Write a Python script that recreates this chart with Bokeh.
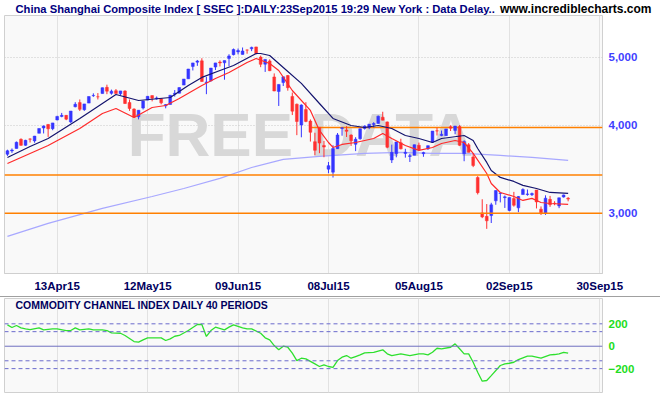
from bokeh.plotting import figure
from bokeh.models import (Range1d, FixedTicker, NumeralTickFormatter, Label, Span,
                          ColumnDataSource, Spacer)
from bokeh.layouts import column
from bokeh.embed import file_html
from bokeh.resources import INLINE

# ---------------- data (bar index 0 = 13Apr15, trading days) ----------------
bar_index = list(range(-11, 114))
opens = [3640, 3680, 3710, 3822, 3748, 3827, 3803, 3899, 3967, 4014, 3958,
         4073, 4121, 4135, 4047, 4253, 4311, 4212, 4304, 4410, 4395, 4441, 4532, 4444, 4483,
         4438, 4479, 4312, 4222, 4115, 4235, 4347, 4411, 4365, 4367, 4266, 4285, 4432, 4446,
         4566, 4660, 4854, 4922, 4943, 4604, 4633, 4844, 4924, 4912, 4982, 5045, 5090, 5049,
         5122, 5143, 5174, 5004, 4890, 4942, 4689, 4471, 4604, 4711, 4399, 4289, 4006, 4214,
         4058, 3793, 3975, 3747, 3467, 3433, 3707, 3961, 3942, 3876, 3761, 3830, 3962, 3975,
         4013, 4027, 4109, 4047, 3573, 3646, 3779, 3650, 3614, 3628, 3749, 3647, 3707, 3786,
         3930, 3870, 3869, 3985, 3936, 3986, 3646, 3755, 3609, 3373, 3004, 2970, 2978, 3125,
         3202, 3158, 3028, 3149, 3054, 3190, 3190, 3189, 3237, 3041, 2998, 3140, 3100, 3073,
         3164, 3152]
highs = [3695, 3710, 3795, 3835, 3817, 3835, 3866, 3961, 4000, 4018, 4034,
         4128, 4168, 4140, 4194, 4317, 4356, 4293, 4398, 4444, 4448, 4529, 4572, 4499, 4507,
         4480, 4488, 4356, 4231, 4205, 4336, 4402, 4411, 4398, 4377, 4289, 4417, 4492, 4530,
         4658, 4814, 4911, 4958, 4986, 4690, 4829, 4911, 4951, 4947, 5051, 5147, 5147, 5164,
         5130, 5178, 5176, 5029, 4968, 4967, 4744, 4577, 4691, 4720, 4456, 4297, 4287, 4317,
         4080, 3906, 3975, 3803, 3549, 3749, 3902, 3976, 3991, 3886, 3849, 3958, 4001, 4017,
         4043, 4132, 4184, 4052, 3757, 3792, 3830, 3706, 3645, 3757, 3782, 3670, 3746, 3928,
         3970, 3934, 3955, 4003, 3994, 4006, 3811, 3776, 3652, 3388, 3141, 3092, 3105, 3233,
         3208, 3180, 3160, 3218, 3174, 3256, 3243, 3211, 3237, 3068, 3182, 3176, 3121, 3157,
         3190, 3163]
lows = [3620, 3656, 3710, 3742, 3743, 3783, 3780, 3899, 3897, 3853, 3938,
        4069, 4109, 4070, 4034, 4245, 4194, 4196, 4304, 4393, 4356, 4441, 4432, 4424, 4441,
        4415, 4293, 4196, 4100, 4081, 4215, 4345, 4329, 4353, 4287, 4231, 4285, 4397, 4446,
        4566, 4660, 4790, 4863, 4617, 4432, 4615, 4797, 4853, 4647, 4858, 5032, 5049, 5048,
        5060, 5103, 5048, 4842, 4767, 4780, 4476, 4264, 4552, 4483, 4139, 3875, 3848, 4043,
        3795, 3629, 3653, 3605, 3421, 3373, 3705, 3868, 3852, 3741, 3678, 3818, 3947, 3952,
        3974, 4023, 4068, 3713, 3537, 3604, 3699, 3600, 3549, 3628, 3687, 3610, 3692, 3781,
        3871, 3862, 3866, 3928, 3887, 3743, 3558, 3663, 3490, 3191, 2953, 2851, 2906, 3085,
        3109, 3053, 3020, 3066, 3011, 3190, 3178, 3175, 3048, 2983, 2984, 3064, 3080, 3051,
        3158, 3120]
closes = [3682, 3691, 3786, 3748, 3810, 3825, 3863, 3961, 3994, 3957, 4034,
          4121, 4135, 4084, 4194, 4287, 4217, 4293, 4398, 4414, 4393, 4527, 4476, 4476, 4441,
          4480, 4298, 4229, 4112, 4205, 4333, 4401, 4375, 4378, 4308, 4283, 4417, 4446, 4529,
          4658, 4813, 4910, 4941, 4620, 4612, 4828, 4910, 4910, 4947, 5023, 5131, 5113, 5106,
          5121, 5166, 5062, 4887, 4967, 4786, 4478, 4576, 4691, 4527, 4192, 4053, 4277, 4054,
          3912, 3687, 3776, 3727, 3507, 3709, 3878, 3970, 3924, 3805, 3823, 3957, 3992, 4017,
          4026, 4124, 4070, 3725, 3663, 3789, 3705, 3664, 3622, 3756, 3695, 3661, 3744, 3928,
          3928, 3887, 3955, 3965, 3993, 3748, 3794, 3664, 3508, 3210, 2965, 2927, 3084, 3232,
          3206, 3166, 3160, 3080, 3170, 3243, 3197, 3200, 3114, 3005, 3152, 3086, 3097, 3156,
          3186, 3143]

# upper (navy) and lower (red) moving-average lines
navy_index = [-11, -6, -2, 5, 10, 13, 18, 25, 29, 32, 36, 39, 44, 45, 47, 50, 54, 58, 61,
              65, 68, 71, 74, 77, 80, 83, 85, 90, 92, 93, 95, 96, 98, 101, 103, 106, 109, 113]
navy_values = [3602, 3734, 3833, 4093, 4299, 4427, 4341, 4384, 4560, 4682, 4790, 4869, 5064,
               5064, 5031, 4837, 4591, 4299, 4093, 4000, 3974, 4000, 3961, 3871, 3833, 3783,
               3833, 3871, 3808, 3710, 3544, 3452, 3374, 3330, 3287, 3254, 3212, 3202]
red_index = [-11, -2, 5, 10, 13, 17, 21, 24, 27, 32, 35, 38, 42, 44, 47, 49, 52, 56, 58, 60,
             61, 63, 66, 70, 72, 74, 77, 80, 83, 85, 88, 90, 92, 95, 96, 98, 101, 103, 105,
             107, 109, 113]
red_values = [3532, 3746, 3961, 4160, 4229, 4106, 4243, 4271, 4370, 4560, 4666, 4759, 4917,
              4982, 4901, 4790, 4486, 4202, 3935, 3783, 3722, 3759, 3783, 3833, 3897, 3833,
              3746, 3686, 3722, 3771, 3808, 3783, 3650, 3418, 3308, 3212, 3170, 3129, 3150,
              3108, 3098, 3088]
slow_index = [-11, -2, 10, 21, 28, 36, 43, 50, 58, 68, 76, 83, 90, 98, 105, 113]
slow_values = [2781, 2902, 3048, 3170, 3254, 3363, 3486, 3579, 3614, 3650, 3662, 3650, 3650,
               3626, 3602, 3567]

# horizontal reference lines
full_levels = [3400, 3000]
partial_level = 3975
partial_start = 56

# commodity channel index (40 periods)
cci_index = [-11, -10, -9, -8, -7, -6, -4, -3, -1, 0, 2, 3, 4, 5, 7, 8, 10, 11, 12, 14, 15,
             17, 18, 19, 20, 22, 23, 24, 25, 26, 27, 29, 31, 32, 33, 34, 35, 37, 38, 39, 41,
             42, 43, 45, 46, 47, 48, 49, 50, 51, 52, 53, 54, 55, 57, 58, 59, 60, 61, 62, 63,
             64, 65, 66, 67, 68, 70, 72, 73, 74, 76, 78, 80, 81, 82, 83, 84, 85, 87, 88, 89,
             90, 91, 92, 93, 94, 95, 96, 98, 99, 100, 101, 102, 104, 105, 107, 109, 110, 111,
             112, 113]
cci_values = [191, 167, 185, 164, 155, 149, 164, 146, 155, 155, 140, 140, 164, 146, 155, 146,
              146, 140, 119, 116, 96, 42, 36, 57, 75, 75, 75, 51, 66, 89, 96, 140, 194, 194,
              87, 140, 170, 146, 170, 191, 164, 155, 155, 116, 75, 57, 6, -32, 0, -9, -62,
              -128, -107, -113, -157, -181, -166, -181, -188, -128, -98, -83, -107, -92, -77,
              -59, -54, -32, -68, -83, -68, -83, -68, -68, -77, -54, -18, -23, -9, 21, -23,
              -68, -68, -143, -232, -312, -306, -262, -172, -157, -152, -143, -119, -89, -89,
              -107, -77, -74, -68, -54, -62]
cci_levels_dashed = [200, 130, -130, -200]

tick_index = [0, 20, 40, 60, 80, 100, 120]
tick_labels = ["13Apr15", "12May15", "09Jun15", "08Jul15", "05Aug15", "02Sep15", "30Sep15"]
price_ticks = [3000, 4000, 5000]
cci_ticks = [-200, 0, 200]

title_text = "China Shanghai Composite Index [ SSEC ]:DAILY:23Sep2015 19:29 New York : Data Delay.."
site_text = "www.incrediblecharts.com"
cci_title = "COMMODITY CHANNEL INDEX DAILY 40 PERIODS"

# ---------------- styling ----------------
FONT = "Liberation Sans"
UP = "#3535ff"
DOWN = "#ff3030"
BG = "#f9f9f9"

colors = [UP if c >= o else DOWN for o, c in zip(opens, closes)]
src = ColumnDataSource(dict(x=bar_index, o=opens, h=highs, l=lows, c=closes, col=colors))

xr = Range1d(-11.65, 120.6)

# ---------------- header strip ----------------
h = figure(width=660, height=15, x_range=Range1d(0, 660), y_range=Range1d(0, 15),
           output_backend="svg", toolbar_location=None, title=None, min_border=0)
h.frame_align = False
h.axis.visible = False
h.grid.visible = False
h.outline_line_color = None
h.background_fill_color = "white"
h.border_fill_color = "white"
h.add_layout(Label(x=15, y=7, text=title_text, text_font=FONT, text_font_style="bold",
                   text_font_size="11.2px", text_color="#000080", text_baseline="middle"))
h.add_layout(Label(x=651, y=7, text=site_text, text_font=FONT, text_font_style="bold",
                   text_font_size="12px", text_color="#000000", text_baseline="middle",
                   text_align="right"))

# ---------------- price panel ----------------
p = figure(frame_width=598, frame_height=258, x_range=xr, y_range=Range1d(2463, 5735),
           y_axis_type="log", y_axis_location="right", output_backend="svg",
           toolbar_location=None, title=None,
           min_border_left=4, min_border_right=58, min_border_top=0, min_border_bottom=23)
p.background_fill_color = BG
p.border_fill_color = "white"
p.outline_line_color = "#d0d0d0"

p.xaxis.ticker = FixedTicker(ticks=tick_index)
p.xaxis.major_label_overrides = {t: s for t, s in zip(tick_index, tick_labels)}
p.xaxis.major_label_text_font = FONT
p.xaxis.major_label_text_font_style = "bold"
p.xaxis.major_label_text_font_size = "11.5px"
p.xaxis.major_label_text_color = "#00005e"
p.xaxis.major_tick_line_color = None
p.xaxis.minor_tick_line_color = None
p.xaxis.major_tick_out = 0
p.xaxis.major_tick_in = 0
p.xaxis.minor_tick_out = 0
p.xaxis.axis_line_color = "#cfcfcf"
p.xaxis.major_label_standoff = 6

p.yaxis.ticker = FixedTicker(ticks=price_ticks)
p.yaxis.formatter = NumeralTickFormatter(format="0,0")
p.yaxis.major_label_text_font = FONT
p.yaxis.major_label_text_font_style = "bold"
p.yaxis.major_label_text_font_size = "11.5px"
p.yaxis.major_label_text_color = "#3f3fff"
p.yaxis.major_tick_line_color = None
p.yaxis.minor_tick_line_color = None
p.yaxis.major_tick_out = 0
p.yaxis.minor_tick_out = 0
p.yaxis.axis_line_color = None
p.yaxis.major_label_standoff = 6

p.xgrid.ticker = FixedTicker(ticks=tick_index)
p.xgrid.grid_line_color = "#e2e2e2"
p.ygrid.grid_line_color = "#c8c8c8"
p.ygrid.grid_line_dash = "1 2"

wm = Label(x=53.8, y=3883, text="FREE DATA", text_font=FONT, text_font_style="bold",
           text_font_size="62px", text_color="#d8d8d8", text_align="center",
           text_baseline="middle", level="underlay")
p.add_layout(wm)

for lv in full_levels:
    p.add_layout(Span(location=lv, dimension="width", line_color="#ff8000", line_width=1.5))
p.line([partial_start, xr.end], [partial_level, partial_level], line_color="#ff8000", line_width=1.5)

p.line(slow_index, slow_values, line_color="#a8a8ff", line_width=1.2)

p.segment(x0="x", y0="h", x1="x", y1="l", color="col", line_width=1, source=src)
p.vbar(x="x", width=0.62, top="o", bottom="c", fill_color="col", line_color="col",
       line_width=0.5, source=src)

p.line(navy_index, navy_values, line_color="#14146e", line_width=1.2)
p.line(red_index, red_values, line_color="#ff2a2a", line_width=1.2)

# ---------------- CCI panel ----------------
q = figure(frame_width=598, frame_height=94, x_range=xr, y_range=Range1d(-413, 426),
           y_axis_location="right", output_backend="svg", toolbar_location=None, title=None,
           min_border_left=4, min_border_right=58, min_border_top=1, min_border_bottom=8)
q.background_fill_color = BG
q.border_fill_color = "white"
q.outline_line_color = "#d0d0d0"
q.xaxis.visible = False
q.xgrid.ticker = FixedTicker(ticks=tick_index)
q.xgrid.grid_line_color = "#e2e2e2"
q.ygrid.grid_line_color = None

q.yaxis.ticker = FixedTicker(ticks=cci_ticks)
q.yaxis.major_label_text_font = FONT
q.yaxis.major_label_text_font_style = "bold"
q.yaxis.major_label_text_font_size = "11.5px"
q.yaxis.major_label_text_color = "#22dd22"
q.yaxis.major_tick_line_color = None
q.yaxis.minor_tick_line_color = None
q.yaxis.major_tick_out = 0
q.yaxis.minor_tick_out = 0
q.yaxis.axis_line_color = None
q.yaxis.major_label_standoff = 6

for lv in cci_levels_dashed:
    q.add_layout(Span(location=lv, dimension="width", line_color="#6a6acc", line_width=1,
                      line_dash="4 3"))
q.add_layout(Span(location=0, dimension="width", line_color="#7070c0", line_width=1))

q.line(cci_index, cci_values, line_color="#2ee02e", line_width=1.3)

q.add_layout(Label(x=11, y=88, x_units="screen", y_units="screen", text=cci_title,
                   text_font=FONT, text_font_style="bold", text_font_size="10.5px",
                   text_color="#00005e", text_baseline="middle"))

sep = Spacer(width=660, height=1, styles={"background-color": "#a0a0a0"})

layout = column(h, p, sep, q, spacing=0)
open("out.html", "w").write(file_html(layout, INLINE))
